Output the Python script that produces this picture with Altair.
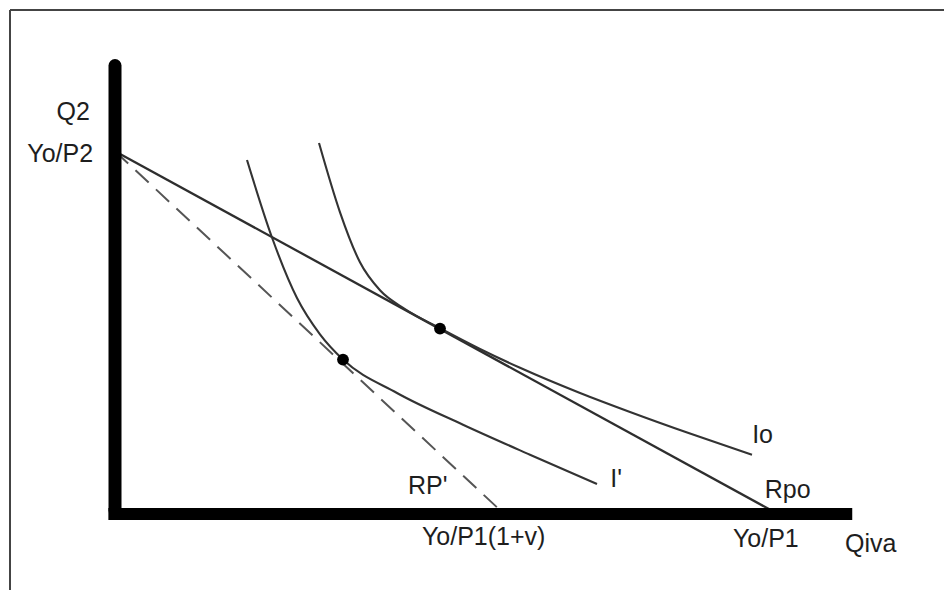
import altair as alt
import pandas as pd

# ---- diagram values (economic units: Yo/P1 = 100 on the Qiva axis, Yo/P2 = 100 on the Q2 axis)
YO_P1 = 100.0
YO_P2 = 100.0
YO_P1_V = 58.7          # Yo/P1(1+v)

# budget lines
rpo_x = [0.0, YO_P1]
rpo_y = [YO_P2, 0.0]
rp_x = [0.0, YO_P1_V]
rp_y = [YO_P2, 0.0]

# indifference curve Io
io_x = [30.77, 33.94, 36.95, 39.97, 43.74, 49.02, 55.05, 61.09, 70.14, 77.68, 86.73, 96.08]
io_y = [102.26, 83.16, 69.38, 61.66, 56.50, 51.19, 45.48, 40.30, 33.35, 28.11, 22.16, 16.34]

# indifference curve I'
ip_x = [19.91, 23.68, 27.45, 30.92, 34.39, 42.53, 52.49, 62.59, 72.70]
ip_y = [97.57, 76.21, 59.54, 49.53, 42.56, 33.35, 24.61, 16.34, 8.27]

# tangency points
opt_x = [49.02, 34.39]
opt_y = [51.1, 42.56]

# labels
lab_left_text = ["RP'", "I'", "Yo/P1(1+v)", "Io", "Rpo", "Yo/P1", "Qiva"]
lab_left_x = [44.2, 74.7, 46.3, 96.1, 98.0, 93.2, 110.1]
lab_left_y = [5.5, 7.4, -8.5, 19.6, 4.4, -9.1, -10.5]
lab_right_text = ["Q2", "Yo/P2"]
lab_right_x = [-3.8, -3.3]
lab_right_y = [108.6, 97.0]

# ---- scales
W, H = 936, 582
xs = alt.Scale(domain=[-16.14, 125.04], nice=False, zero=False)
ys = alt.Scale(domain=[-20.95, 139.47], nice=False, zero=False)

def X(f="x"):
    return alt.X(f"{f}:Q", scale=xs, axis=None)

def Y(f="y"):
    return alt.Y(f"{f}:Q", scale=ys, axis=None)

rpo = alt.Chart(pd.DataFrame({"x": rpo_x, "y": rpo_y})).mark_line(
    color="#2e2e2e", strokeWidth=2.3).encode(x=X(), y=Y())

rp = alt.Chart(pd.DataFrame({"x": rp_x, "y": rp_y})).mark_line(
    color="#555555", strokeWidth=2, strokeDash=[18, 10]).encode(x=X(), y=Y())

io = alt.Chart(pd.DataFrame({"x": io_x, "y": io_y})).mark_line(
    color="#333333", strokeWidth=2.1, interpolate="monotone").encode(x=X(), y=Y())

ip = alt.Chart(pd.DataFrame({"x": ip_x, "y": ip_y})).mark_line(
    color="#333333", strokeWidth=2.1, interpolate="monotone").encode(x=X(), y=Y())

dots = alt.Chart(pd.DataFrame({"x": opt_x, "y": opt_y})).mark_point(
    filled=True, shape="circle", size=140, color="black", opacity=1).encode(x=X(), y=Y())

yaxis = alt.Chart(pd.DataFrame({"x": [0.0], "y": [1.0], "y2": [123.6]})).mark_rule(
    color="black", strokeWidth=13, strokeCap="round").encode(
    x=X(), y=Y(), y2="y2:Q")

xaxis = alt.Chart(pd.DataFrame({"x": [-1.0], "x2": [111.2], "y": [0.0]})).mark_rule(
    color="black", strokeWidth=12, strokeCap="butt").encode(
    x=X(), x2="x2:Q", y=Y())

frame_top = alt.Chart(pd.DataFrame({"k": [0]})).mark_rule(
    color="#444444", strokeWidth=2).encode(
    x=alt.value(2), x2=alt.value(W), y=alt.value(2))
frame_left = alt.Chart(pd.DataFrame({"k": [0]})).mark_rule(
    color="#444444", strokeWidth=2).encode(
    x=alt.value(2), y=alt.value(2), y2=alt.value(H))

txt_left = alt.Chart(pd.DataFrame({"t": lab_left_text, "x": lab_left_x, "y": lab_left_y})).mark_text(
    align="left", baseline="alphabetic", font="Liberation Sans", fontSize=25, color="#1e1e1e").encode(
    x=X(), y=Y(), text="t:N")

txt_right = alt.Chart(pd.DataFrame({"t": lab_right_text, "x": lab_right_x, "y": lab_right_y})).mark_text(
    align="right", baseline="alphabetic", font="Liberation Sans", fontSize=25, color="#1e1e1e").encode(
    x=X(), y=Y(), text="t:N")

chart = alt.layer(
    frame_top, frame_left, rp, rpo, io, ip, dots, yaxis, xaxis, txt_left, txt_right
).properties(
    width=W, height=H, autosize=alt.AutoSizeParams(type="none"), padding=0, background="white"
).configure_view(stroke=None)

chart.save("out.html", embed_options={"renderer": "svg", "actions": False})
